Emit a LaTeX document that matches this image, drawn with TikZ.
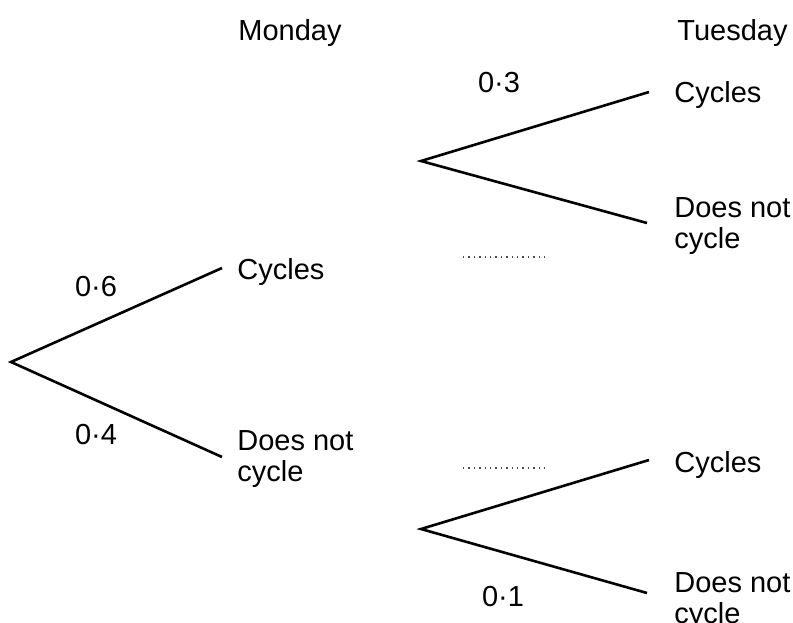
\documentclass[tikz,border=0pt]{standalone}
\usepackage{fontspec}
\setmainfont{Liberation Sans}
\tikzset{
  branch/.style={line width=1.3pt},
  blank/.style={dotted, line width=0.7pt, black!70},
  word/.style={inner sep=0pt, anchor=base west, align=left, font=\fontsize{14.5}{15.5}\selectfont},
  prob/.style={inner sep=0pt, font=\fontsize{14.5}{15.5}\selectfont}
}

\begin{document}
\begin{tikzpicture}[x=0.5pt, y=-0.5pt]
			%%%%% START %%%%%
			\useasboundingbox (0, 0) rectangle (793, 622);
			
			\node[word] (monday) at (238, 40) {Monday};
			\node[word] (tuesday) at (677, 40) {Tuesday};
			
			% monday
			\coordinate (root) at (11, 362);
			\coordinate (mc) at (222, 268);
			\coordinate (mn) at (222, 457);
			\draw[branch] (mc) -- (root) -- (mn);
			\node[word] (mcText) at (237, 279) {Cycles};
			\node[word] (mnText) at (237, 481) {Does not\\cycle};
			\node[prob] (p06) at (96, 287) {0·6};
			\node[prob] (p04) at (96, 435) {0·4};
			
			% tuesday, after cycling
			\coordinate (ca) at (421, 161);
			\coordinate (cc) at (649, 92);
			\coordinate (cn) at (647, 223);
			\draw[branch] (cc) -- (ca) -- (cn);
			\node[word] (ccText) at (674, 102) {Cycles};
			\node[word] (cnText) at (674, 248) {Does not\\cycle};
			\node[prob] (p03) at (499, 83) {0·3};
			\coordinate (b1a) at (463, 257);
			\coordinate (b1b) at (547, 257);
			\draw[blank] (b1a) -- (b1b);
			
			% tuesday, after not cycling
			\coordinate (na) at (421, 529);
			\coordinate (nc) at (649, 460);
			\coordinate (nn) at (647, 593);
			\draw[branch] (nc) -- (na) -- (nn);
			\node[word] (ncText) at (674, 472) {Cycles};
			\node[word] (nnText) at (674, 623) {Does not\\cycle};
			\node[prob] (p01) at (503, 597) {0·1};
			\coordinate (b2a) at (463, 468);
			\coordinate (b2b) at (547, 468);
			\draw[blank] (b2a) -- (b2b);
			
			%%%%% END %%%%%
\end{tikzpicture}
\end{document}
